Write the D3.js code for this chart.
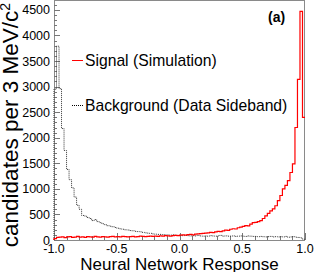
<!DOCTYPE html>
<html>
<head>
<meta charset="utf-8">
<script src="https://cdn.jsdelivr.net/npm/d3@7"></script>
<style>
  html, body { margin: 0; padding: 0; background: #fff; }
  svg { display: block; font-family: "Liberation Sans", Arial, Helvetica, sans-serif; }
</style>
</head>
<body>
<svg id="chart" width="314" height="272"></svg>
<script>
// ---- data (100 bins from -1.0 to 1.0) ----
const xRange = [-1.0, 1.0];
const nBins = 100;
const signalCounts = [
  25, 50, 55, 60, 45, 60, 65, 50, 55, 70,
  55, 60, 50, 65, 60, 55, 70, 60, 55, 65,
  60, 55, 65, 70, 60, 65, 60, 70, 65, 60,
  65, 70, 60, 65, 75, 70, 65, 70, 75, 70,
  75, 70, 80, 75, 85, 80, 75, 85, 90, 85,
  95, 100, 95, 105, 110, 100, 115, 120, 125, 130,
  135, 140, 150, 145, 160, 170, 165, 180, 195, 190,
  210, 220, 215, 240, 250, 265, 280, 275, 310, 340,
  345, 360, 380, 420, 470, 520, 570, 610, 670, 770,
  870, 1000, 1070, 1160, 1320, 1490, 2200, 3140, 4470, 2400
];
const backgroundCounts = [
  2950, 3790, 2960, 2180, 1750, 1380, 1180, 1020, 840, 680,
  600, 480, 470, 440, 420, 380, 400, 360, 340, 320,
  300, 280, 270, 260, 245, 230, 220, 210, 200, 195,
  185, 180, 170, 165, 160, 150, 140, 135, 130, 120,
  115, 110, 110, 105, 100, 100, 95, 100, 95, 90,
  90, 85, 90, 85, 80, 85, 80, 90, 80, 75,
  80, 75, 85, 80, 75, 80, 90, 75, 80, 75,
  75, 80, 70, 75, 80, 75, 70, 80, 75, 70,
  70, 65, 70, 65, 60, 65, 70, 60, 65, 60,
  65, 60, 70, 55, 60, 65, 55, 50, 40, 15
];
const yTickValues = [0, 500, 1000, 1500, 2000, 2500, 3000, 3500, 4000, 4500];
const xTickValues = [-1.0, -0.5, 0.0, 0.5, 1.0];
const legendLabels = ["Signal (Simulation)", "Background (Data Sideband)"];
const panelLabel = "(a)";
const xTitle = "Neural Network Response";
const yTitleMain = "candidates per 3 MeV/c";
const yTitleSup = "2";

// ---- layout ----
const svg = d3.select("#chart");
const plot = { left: 54, right: 305, top: 0, bottom: 240 };
const yMax = 1.05 * d3.max(signalCounts.concat(backgroundCounts));

const x = d3.scaleLinear().domain(xRange).range([plot.left, plot.right]);
const y = d3.scaleLinear().domain([0, yMax]).range([plot.bottom, plot.top]);

const binW = (xRange[1] - xRange[0]) / nBins;

function histPoints(counts) {
  const pts = [[xRange[0], 0]];
  counts.forEach((c, i) => {
    const lo = xRange[0] + i * binW;
    pts.push([lo, c]);
    pts.push([lo + binW, c]);
  });
  return pts;
}
const line = d3.line().x(d => x(d[0])).y(d => y(d[1]));

// frame
svg.append("rect")
  .attr("x", plot.left + 0.5).attr("y", plot.top + 0.5)
  .attr("width", plot.right - plot.left - 1).attr("height", plot.bottom - plot.top)
  .attr("fill", "none").attr("stroke", "#8a8a8a").attr("stroke-width", 1);

// y axis ticks (inside)
const yMinor = d3.range(0, yMax, 100);
svg.append("g").selectAll("line").data(yMinor).join("line")
  .attr("x1", plot.left).attr("x2", d => plot.left + (d % 500 === 0 ? 6 : 3))
  .attr("y1", d => Math.round(y(d)) + 0.5).attr("y2", d => Math.round(y(d)) + 0.5)
  .attr("stroke", "#777").attr("stroke-width", 1);
svg.append("g").selectAll("text").data(yTickValues).join("text")
  .attr("x", plot.left - 4).attr("y", d => y(d) + 4.5)
  .attr("text-anchor", "end").attr("font-size", 12.5).attr("fill", "#000")
  .text(d => d);

// x axis ticks (inside)
const xMinor = d3.range(-10, 11).map(d => d / 10);
svg.append("g").selectAll("line").data(xMinor).join("line")
  .attr("x1", d => Math.round(x(d)) + 0.5).attr("x2", d => Math.round(x(d)) + 0.5)
  .attr("y1", plot.bottom).attr("y2", (d, i) => plot.bottom - (i % 5 === 0 ? 7 : 4))
  .attr("stroke", "#777").attr("stroke-width", 1);
svg.append("g").selectAll("text").data(xTickValues).join("text")
  .attr("x", d => x(d)).attr("y", 253)
  .attr("text-anchor", "middle").attr("font-size", 12.5).attr("fill", "#000")
  .text(d => d3.format(".1f")(d).replace("−", "-"));

// histograms
svg.append("path").attr("d", line(histPoints(backgroundCounts)))
  .attr("fill", "none").attr("stroke", "#333").attr("stroke-width", 1)
  .attr("stroke-dasharray", "1,1");
svg.append("path").attr("d", line(histPoints(signalCounts)))
  .attr("fill", "none").attr("stroke", "#ff0000").attr("stroke-width", 1.2);

// titles
svg.append("text").attr("x", (plot.left + plot.right) / 2).attr("y", 270)
  .attr("text-anchor", "middle").attr("font-size", 17).attr("fill", "#000")
  .text(xTitle);
const yt = svg.append("text")
  .attr("transform", "translate(18,3) rotate(-90)")
  .attr("text-anchor", "end").attr("font-size", 22.5).attr("fill", "#000");
yt.append("tspan").text(yTitleMain);
yt.append("tspan").attr("font-size", 14).attr("dy", -8).text(yTitleSup);

// legend
const legendY = [60, 105];
const legendStyles = [
  { stroke: "#ff0000", dash: null },
  { stroke: "#000", dash: "1,1" }
];
legendLabels.forEach((lab, i) => {
  svg.append("line").attr("x1", 72).attr("x2", 83)
    .attr("y1", legendY[i] + 0.5).attr("y2", legendY[i] + 0.5)
    .attr("stroke", legendStyles[i].stroke).attr("stroke-width", 1)
    .attr("stroke-dasharray", legendStyles[i].dash);
  svg.append("text").attr("x", 85).attr("y", legendY[i] + 6)
    .attr("font-size", 15.7).attr("fill", "#000").text(lab);
});

// panel label
svg.append("text").attr("x", 268).attr("y", 21.5)
  .attr("font-size", 14).attr("font-weight", "bold").attr("fill", "#000")
  .text(panelLabel);
</script>
</body>
</html>
